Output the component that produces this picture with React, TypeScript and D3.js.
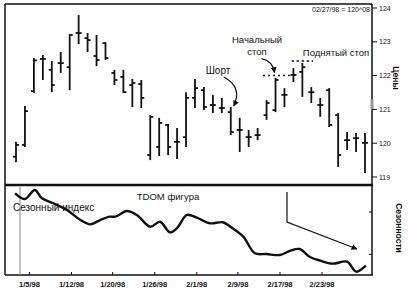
import React from "react";
import * as d3 from "d3";

// OHLC price bars (T-bond futures, Jan–Feb 1998)
const barOpen = [119.6, 119.95, 121.54, 122.49, 122.17, 122.37, 122.25, 123.26, 123.11, 122.58, 122.96, 122.08, 121.96, 121.72, 121.75, 119.65, 119.89, 120.54, 120.04, 120.18, 121.34, 121.57, 121.13, 121.04, 120.92, 120.39, 120.18, 120.24, 120.83, 120.98, 121.43, 122.02, 122.11, 121.51, 121.13, 121.57, 120.83, 120.09, 120.15, 120.01];
const barHigh = [120.04, 121.1, 122.52, 122.61, 122.43, 122.7, 123.23, 123.79, 123.26, 123.2, 122.99, 122.17, 122.17, 121.9, 121.87, 120.83, 120.75, 120.57, 120.45, 121.51, 121.9, 121.66, 121.43, 121.34, 121.07, 120.75, 120.39, 120.45, 121.28, 121.93, 121.63, 122.22, 122.37, 121.66, 121.34, 121.63, 120.89, 120.33, 120.3, 120.3];
const barLow = [119.44, 119.89, 121.49, 121.87, 121.51, 122.08, 121.57, 122.93, 122.7, 122.28, 122.46, 121.72, 121.49, 121.07, 121.04, 119.5, 119.62, 119.65, 119.53, 119.89, 121.04, 120.98, 120.89, 120.89, 120.24, 119.74, 119.89, 120.09, 120.69, 120.92, 121.07, 121.81, 121.37, 121.19, 120.78, 120.48, 119.3, 119.8, 119.74, 119.12];
const barClose = [119.95, 120.95, 122.45, 122.49, 121.72, 122.37, 123.2, 123.26, 123.05, 122.46, 122.52, 121.87, 121.51, 121.78, 121.34, 120.78, 120.6, 119.89, 120.04, 121.34, 121.63, 121.07, 121.13, 121.04, 120.33, 120.39, 120.18, 120.24, 121.19, 121.87, 121.43, 122.02, 122.25, 121.51, 121.13, 120.54, 119.65, 120.09, 120.15, 120.01];

// Seasonal index (TDOM pattern), position in bar units and value
const seasIdx = [-0.1, 1.0, 2.1, 2.9, 4.1, 5.7, 7.2, 8.3, 9.4, 10.5, 11.1, 12.4, 13.5, 15.0, 16.1, 17.2, 18.0, 19.1, 20.2, 21.7, 23.1, 24.2, 25.4, 26.7, 28.0, 29.5, 30.6, 31.7, 32.8, 34.0, 35.4, 37.0, 38.0, 39.1];
const seasVal = [90.8, 84.4, 94.4, 85.2, 80, 72.2, 61.1, 56.3, 61.1, 64.8, 64.8, 71.1, 66.7, 53.7, 59.2, 47.4, 52.2, 66.7, 63.7, 57.4, 58.6, 51.9, 42.6, 24.1, 23.3, 22.2, 26.7, 28.9, 20.3, 15.9, 12.6, 14.8, 3.7, 10.3];

const priceTicks = [119, 120, 121, 122, 123, 124];
const dateLabels = ["1/5/98", "1/12/98", "1/20/98", "1/26/98", "2/1/98", "2/9/98", "2/17/98", "2/23/98"];
const dateTickIdx = [1.5, 6.2, 10.8, 15.5, 20.2, 24.8, 29.5, 34.2];
const seasTicks = [23, 70];

const initialStop = 122.0;
const raisedStop = 122.43;

export default function App() {
  const W = 408, H = 293;
  const left = 5, right = 372, top = 4, mid = 185, bottom = 275;
  const x = d3.scaleLinear().domain([0, 39]).range([16, 365]);
  const y = d3.scaleLinear().domain([119, 124]).range([177, 8]);
  const ys = d3.scaleLinear().domain([0, 100]).range([275, 185]);
  const font = "'Liberation Sans', Arial, sans-serif";
  const ink = "#111";

  const seasLine = d3
    .line<number>()
    .x((_, i) => x(seasIdx[i]))
    .y((d) => ys(d))
    .curve(d3.curveCatmullRom.alpha(0.5))(seasVal) || "";

  const tk = 3;
  // annotation anchors from scales
  const shortX = x(24), shortY = y(barHigh[24]);
  const istX = x(29), istY = y(initialStop);

  return (
    <svg width={W} height={H} style={{ position: "absolute", left: 0, top: 0, background: "#fff" }}>
      <defs>
        <marker id="ah" viewBox="0 0 10 10" refX="9" refY="5" markerWidth="5" markerHeight="5" orient="auto">
          <path d="M0,0 L10,5 L0,10 z" fill={ink} />
        </marker>
      </defs>
      {/* frame */}
      <line x1={left} x2={right} y1={top} y2={top} stroke={ink} strokeWidth={1.5} />
      <line x1={left} x2={left} y1={top} y2={bottom} stroke={ink} strokeWidth={1.5} />
      <line x1={right} x2={right} y1={top} y2={bottom} stroke={ink} strokeWidth={1.5} />
      <line x1={left} x2={right + 1} y1={mid} y2={mid} stroke={ink} strokeWidth={2.5} />
      <line x1={left} x2={right + 1} y1={bottom} y2={bottom} stroke={ink} strokeWidth={1.5} />
      <rect x={right - 1.5} y={y(121.3)} width={3} height={y(121.0) - y(121.3)} fill="#999" />

      {/* price axis */}
      {priceTicks.map((p) => (
        <g key={p}>
          <line x1={right} x2={right + 5} y1={y(p)} y2={y(p)} stroke={ink} strokeWidth={1} />
          <text x={right + 7} y={y(p) + 2.5} fontSize={7} fontFamily={font} fill={ink}>{p}</text>
        </g>
      ))}
      {seasTicks.map((s) => (
        <line key={s} x1={right - 3} x2={right} y1={ys(s)} y2={ys(s)} stroke={ink} strokeWidth={1} />
      ))}
      <text transform={`translate(393,78) rotate(90)`} textAnchor="middle" fontSize={8.5} fontWeight="bold" fontFamily={font} fill={ink}>Цены</text>
      <text transform={`translate(396,228) rotate(90)`} textAnchor="middle" fontSize={8.5} fontWeight="bold" fontFamily={font} fill={ink}>Сезонности</text>

      {/* date axis */}
      {dateTickIdx.map((t, i) => (
        <g key={i}>
          <line x1={x(t)} x2={x(t)} y1={bottom} y2={bottom - 3} stroke={ink} strokeWidth={1} />
          <text x={x(t)} y={287} textAnchor="middle" fontSize={7.5} fontWeight="bold" fontFamily={font} fill={ink}>{dateLabels[i]}</text>
        </g>
      ))}

      {/* OHLC bars */}
      {barHigh.map((h, i) => (
        <g key={i} stroke={ink} strokeWidth={1.8}>
          <line x1={x(i)} x2={x(i)} y1={y(h)} y2={y(barLow[i])} />
          <line x1={x(i) - tk} x2={x(i)} y1={y(barOpen[i])} y2={y(barOpen[i])} />
          <line x1={x(i)} x2={x(i) + tk} y1={y(barClose[i])} y2={y(barClose[i])} />
        </g>
      ))}

      {/* stops */}
      <line x1={x(27.6)} x2={x(30.6)} y1={y(initialStop)} y2={y(initialStop)} stroke={ink} strokeWidth={1.5} strokeDasharray="2,3" />
      <line x1={x(30.8)} x2={x(33.2)} y1={y(raisedStop)} y2={y(raisedStop)} stroke={ink} strokeWidth={1.5} strokeDasharray="2.5,2.5" />

      {/* annotations */}
      <text x={218} y={74} textAnchor="middle" fontSize={10} fontFamily={font} fill={ink}>Шорт</text>
      <path d={`M${shortX - 7},${shortY - 30} Q${shortX + 12},${shortY - 20} ${shortX + 3},${shortY - 1}`} fill="none" stroke={ink} strokeWidth={1.2} markerEnd="url(#ah)" />
      <text x={257} y={43} textAnchor="middle" fontSize={9.5} fontFamily={font} fill={ink}>Начальный</text>
      <text x={257} y={55} textAnchor="middle" fontSize={9.5} fontFamily={font} fill={ink}>стоп</text>
      <path d={`M${istX - 14},${istY - 17} Q${istX - 3},${istY - 15} ${istX - 1},${istY - 3}`} fill="none" stroke={ink} strokeWidth={1.2} markerEnd="url(#ah)" />
      <text x={336} y={56} textAnchor="middle" fontSize={9.5} fontFamily={font} fill={ink}>Поднятый стоп</text>
      <text x={370} y={12} textAnchor="end" fontSize={7} fontFamily={font} fill={ink}>02/27/98 = 120^08</text>

      {/* seasonal panel */}
      <line x1={x(0.45)} x2={x(0.45)} y1={mid + 2} y2={bottom} stroke="#888" strokeWidth={1} />
      <path d={seasLine} fill="none" stroke={ink} strokeWidth={2.4} strokeLinejoin="round" />
      <text x={13} y={211} fontSize={10} fontFamily={font} fill={ink}>Сезонный индекс</text>
      <text x={168} y={200} textAnchor="middle" fontSize={9.5} fontFamily={font} fill={ink}>TDOM фигура</text>
      <polyline points={`287,192 287,222 357,249`} fill="none" stroke={ink} strokeWidth={1.2} markerEnd="url(#ah)" />
    </svg>
  );
}
